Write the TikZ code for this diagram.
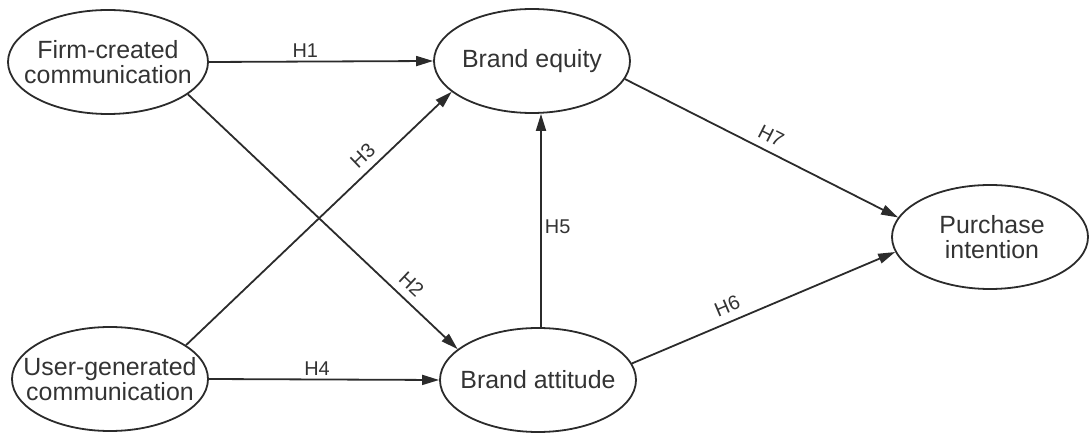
\documentclass[tikz,border=0pt]{standalone}
\usepackage{fontspec}
\setmainfont{Liberation Sans}
\usetikzlibrary{shapes.geometric,arrows.meta}
\definecolor{ln}{HTML}{2B2B2B}
\definecolor{tx}{HTML}{333333}
\begin{document}
\begin{tikzpicture}[x=1bp,y=-1bp,
  var/.style={ellipse, draw=ln, line width=1.8bp, minimum width=196bp, minimum height=104bp, inner sep=0pt},
  txt/.style={align=center, text=tx, inner sep=0pt, font=\fontsize{25}{25}\selectfont},
  arr/.style={draw=ln, line width=1.8bp, -{Triangle[length=17bp,width=10bp]}},
  lab/.style={text=tx, font=\fontsize{20}{20}\selectfont, inner sep=3bp},
  slab/.style={lab, inner sep=7.5bp}]
\useasboundingbox (0,0) rectangle (1089,434);
% constructs
\node[var, minimum width=200bp] (firm) at (108,62) {};
\node[var] (ugc) at (110,379) {};
\node[var] (equity) at (532,61) {};
\node[var] (attitude) at (538,380) {};
\node[var] (purchase) at (990,237) {};
\node[txt] (firmt) at (firm) {Firm-created\\communication};
\node[txt] (ugct) at (ugc) {User-generated\\communication};
\node[txt] (equityt) at (equity) {Brand equity};
\node[txt] (attitudet) at (attitude) {Brand attitude};
\node[txt] (purchaset) at ([xshift=2bp]purchase.center) {Purchase\\intention};
% paths
\coordinate (h5) at (541,0);
\draw[arr] (firm.east) -- node[lab, pos=0.43, above] {H1} (equity.west);
\draw[arr] (firm.-22) -- node[slab, pos=0.79, above, sloped] {H2} (attitude.159);
\draw[arr] (ugc.24) -- node[slab, pos=0.705, above, sloped] {H3} (equity.201);
\draw[arr] (ugc.east) -- node[lab, pos=0.47, above] {H4} (attitude.west);
\draw[arr] (h5 |- attitude.north) -- node[lab, pos=0.47, right] {H5} (h5 |- equity.south);
\draw[arr] (attitude.10) -- node[slab, pos=0.385, above, sloped] {H6} (purchase.189);
\draw[arr] (equity.-11) -- node[slab, pos=0.51, above, sloped] {H7} (purchase.168);
\end{tikzpicture}
\end{document}
